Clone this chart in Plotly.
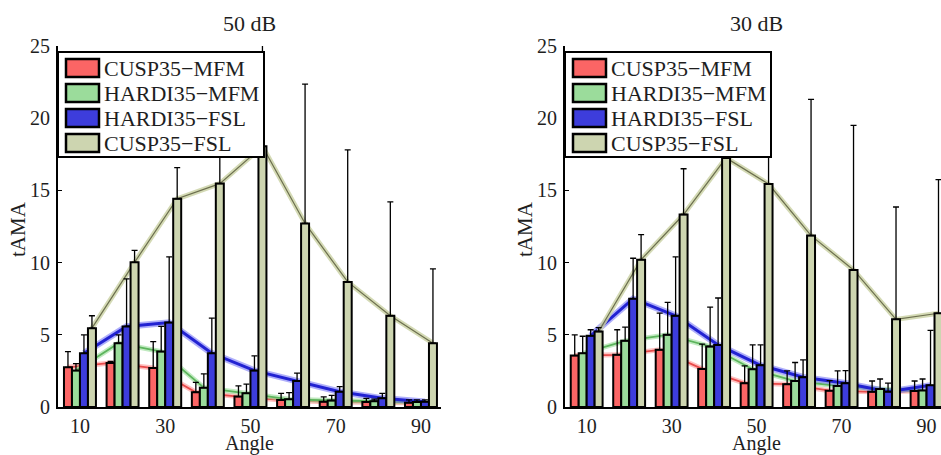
import plotly.graph_objects as go

# ---- data -------------------------------------------------------------
angles = [10, 20, 30, 40, 50, 60, 70, 80, 90]
series_names = ["CUSP35\u2212MFM", "HARDI35\u2212MFM", "HARDI35\u2212FSL", "CUSP35\u2212FSL"]
panel_titles = ["50 dB", "30 dB"]
y_ticks = [0, 5, 10, 15, 20, 25]
x_ticks = [10, 30, 50, 70, 90]

# 50 dB: mean tAMA and upper error per angle
cusp_mfm_50 = [2.75, 3.05, 2.70, 1.02, 0.72, 0.49, 0.37, 0.35, 0.30]
cusp_mfm_50_err = [1.09, 0.10, 1.83, 0.69, 0.74, 0.46, 0.33, 0.25, 0.20]
hardi_mfm_50 = [2.52, 4.42, 3.84, 1.34, 0.95, 0.53, 0.45, 0.40, 0.35]
hardi_mfm_50_err = [0.48, 0.58, 1.74, 0.95, 0.63, 0.46, 0.35, 0.15, 0.15]
hardi_fsl_50 = [3.72, 5.58, 5.85, 3.72, 2.52, 1.80, 1.06, 0.60, 0.37]
hardi_fsl_50_err = [1.28, 3.29, 4.55, 2.44, 1.02, 0.54, 0.35, 0.35, 0.13]
cusp_fsl_50 = [5.46, 10.02, 14.42, 15.47, 18.05, 12.71, 8.66, 6.32, 4.42]
cusp_fsl_50_err = [0.86, 0.83, 2.16, 4.53, 7.95, 9.65, 9.14, 7.88, 5.14]

# 30 dB: mean tAMA and upper error per angle
cusp_mfm_30 = [3.56, 3.61, 3.96, 2.64, 1.65, 1.58, 1.13, 1.05, 1.10]
cusp_mfm_30_err = [1.44, 1.74, 2.54, 1.71, 1.20, 0.92, 0.70, 0.75, 0.70]
hardi_mfm_30 = [3.72, 4.58, 5.00, 4.19, 2.62, 1.80, 1.46, 1.25, 1.15]
hardi_mfm_30_err = [1.18, 0.95, 2.24, 2.73, 1.68, 1.28, 1.04, 0.69, 0.79]
hardi_fsl_30 = [4.93, 7.50, 6.32, 4.30, 2.89, 2.06, 1.65, 1.06, 1.50]
hardi_fsl_30_err = [0.42, 2.80, 4.08, 3.25, 1.41, 1.20, 0.87, 0.59, 3.80]
cusp_fsl_30 = [5.23, 10.20, 13.33, 17.25, 15.44, 11.87, 9.49, 6.07, 6.49]
cusp_fsl_30_err = [0.27, 1.74, 3.17, 3.75, 8.16, 9.43, 10.01, 7.78, 9.25]

# ---- styling ----------------------------------------------------------
FONT = "Liberation Serif"
TXT = "#1e1e1e"
fill_colors = ["#fb6565", "#9bdc9b", "#3d3ddc", "#cdd5b0"]
halo_colors = ["rgba(255,140,140,0.55)", "rgba(150,220,150,0.6)",
               "rgba(110,110,245,0.55)", "rgba(205,212,168,0.85)"]
core_colors = ["#e84a4a", "#5cb45c", "#2222d2", "#6c6f4e"]
core_widths = [1.8, 1.8, 3.0, 1.2]
halo_widths = [5, 5, 6.5, 5]

bar_w = 1.875
offsets = [(i - 1.5) * bar_w for i in range(4)]

W, H = 941, 455
def px(x):
    return x / W
def py(y):
    return 1 - y / H

panels = [
    dict(vals=[cusp_mfm_50, hardi_mfm_50, hardi_fsl_50, cusp_fsl_50],
         errs=[cusp_mfm_50_err, hardi_mfm_50_err, hardi_fsl_50_err, cusp_fsl_50_err],
         base=("x", "y"), over=("x3", "y3"), axis_px=58, center_px=250,
         dom=[px(58), px(441)], xrange=[4.85, 94.7]),
    dict(vals=[cusp_mfm_30, hardi_mfm_30, hardi_fsl_30, cusp_fsl_30],
         errs=[cusp_mfm_30_err, hardi_mfm_30_err, hardi_fsl_30_err, cusp_fsl_30_err],
         base=("x2", "y2"), over=("x4", "y4"), axis_px=565, center_px=756,
         dom=[px(565), 1.0], xrange=[4.9, 93.4]),
]

fig = go.Figure()

for p in panels:
    # connecting lines (on the base axes, so they sit behind the bars)
    for i in range(4):
        xs = [a + offsets[i] for a in angles]
        fig.add_trace(go.Scatter(x=xs, y=p["vals"][i], mode="lines",
                                 line=dict(color=halo_colors[i], width=halo_widths[i]),
                                 xaxis=p["base"][0], yaxis=p["base"][1],
                                 showlegend=False, hoverinfo="skip"))
        fig.add_trace(go.Scatter(x=xs, y=p["vals"][i], mode="lines",
                                 line=dict(color=core_colors[i], width=core_widths[i]),
                                 xaxis=p["base"][0], yaxis=p["base"][1],
                                 showlegend=False, hoverinfo="skip"))
    # bars with upper error bars (on the overlay axes)
    for i in range(4):
        xs = [a + offsets[i] for a in angles]
        fig.add_trace(go.Bar(x=xs, y=p["vals"][i], width=bar_w, name=series_names[i],
                             marker=dict(color=fill_colors[i], line=dict(color="black", width=2)),
                             error_y=dict(type="data", symmetric=False, array=p["errs"][i],
                                          arrayminus=[0] * len(angles), color="black",
                                          thickness=1.3, width=3),
                             xaxis=p["over"][0], yaxis=p["over"][1],
                             showlegend=False))

y_dom = [py(407), py(46)]
axis_common = dict(showgrid=False, zeroline=False, showline=True, linecolor="black",
                   linewidth=2, ticks="inside", ticklen=4, tickwidth=1, tickcolor="black",
                   automargin=False,
                   tickfont=dict(family=FONT, size=20, color=TXT))

layout_axes = {}
for k, p in enumerate(panels):
    bx, by = p["base"]
    ox, oy = p["over"]
    bxn = "xaxis" if bx == "x" else "xaxis" + bx[1:]
    byn = "yaxis" if by == "y" else "yaxis" + by[1:]
    oxn = "xaxis" + ox[1:]
    oyn = "yaxis" + oy[1:]
    layout_axes[bxn] = dict(domain=p["dom"], range=p["xrange"], anchor=by,
                            tickvals=x_ticks, ticklabelstandoff=0, **axis_common)
    layout_axes[byn] = dict(domain=y_dom, range=[0, 25], anchor=bx,
                            tickvals=y_ticks, ticklabelstandoff=2, **axis_common)
    layout_axes[oxn] = dict(overlaying=bx, anchor=oy, range=p["xrange"], visible=False,
                            automargin=False)
    layout_axes[oyn] = dict(overlaying=by, anchor=ox, range=[0, 25], visible=False,
                            automargin=False)

annotations = []
shapes = []
for k, p in enumerate(panels):
    c = p["center_px"]
    annotations.append(dict(text=panel_titles[k], x=px(c), y=py(23), xref="paper", yref="paper",
                            xanchor="center", yanchor="middle",
                            showarrow=False, font=dict(family=FONT, size=22, color=TXT)))
    annotations.append(dict(text="Angle", x=px(c), y=py(443), xref="paper", yref="paper",
                            xanchor="center", yanchor="middle",
                            showarrow=False, font=dict(family=FONT, size=20, color=TXT)))
    annotations.append(dict(text="tAMA", x=px(p["axis_px"] - 40), y=py(229), xref="paper",
                            yref="paper", xanchor="center", yanchor="middle",
                            showarrow=False, textangle=-90,
                            font=dict(family=FONT, size=21, color=TXT)))
    # legend box
    ax = p["axis_px"]
    shapes.append(dict(type="rect", xref="paper", yref="paper", layer="above",
                       x0=px(ax), x1=px(ax + 206), y0=py(157), y1=py(52),
                       fillcolor="white", line=dict(color="black", width=2)))
    for i in range(4):
        top = 59 + 25 * i
        shapes.append(dict(type="rect", xref="paper", yref="paper", layer="above",
                           x0=px(ax + 8), x1=px(ax + 41), y0=py(top + 18), y1=py(top),
                           fillcolor=fill_colors[i], line=dict(color="black", width=2.5)))
        annotations.append(dict(text=series_names[i], x=px(ax + 44), y=py(top + 9.5),
                                xref="paper", yref="paper", xanchor="left", yanchor="middle",
                                showarrow=False, font=dict(family=FONT, size=22, color=TXT)))

fig.update_layout(
    width=W, height=H,
    margin=dict(l=0, r=0, t=0, b=0, pad=0),
    paper_bgcolor="white", plot_bgcolor="white",
    barmode="overlay",
    showlegend=False,
    annotations=annotations,
    shapes=shapes,
    **layout_axes,
)

fig.write_html("out.html")
